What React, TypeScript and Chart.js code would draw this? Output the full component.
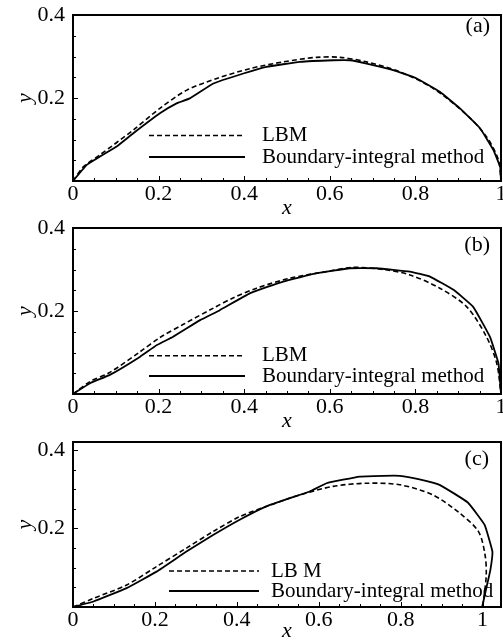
import React, { useEffect, useRef } from 'react';
import { Chart, registerables } from 'chart.js';

Chart.register(...registerables);

const FONT = '"Liberation Serif", "Times New Roman", Times, serif';

// Tick labels
const X_TICK_VALUES = [0, 0.2, 0.4, 0.6, 0.8, 1];
const X_TICK_LABELS = ['0', '0.2', '0.4', '0.6', '0.8', '1'];
const Y_TICK_VALUES = [0.2, 0.4];
const Y_TICK_LABELS = ['0.2', '0.4'];
const MINOR_STEP = 0.05;
const MAJOR_STEP = 0.2;

// Series names
const LBM_LABEL = 'LBM';
const LBM_LABEL_C = 'LB M';
const BIM_LABEL = 'Boundary-integral method';
const PANEL_TAGS = ['(a)', '(b)', '(c)'];

// Panel (a)
const A_LBM_X = [0, 0.024, 0.063, 0.141, 0.203, 0.266, 0.336, 0.414, 0.491, 0.569, 0.624, 0.686, 0.764, 0.842, 0.92, 0.966, 0.994, 1.0];
const A_LBM_Y = [0, 0.034, 0.063, 0.123, 0.175, 0.219, 0.247, 0.271, 0.287, 0.298, 0.298, 0.287, 0.263, 0.223, 0.159, 0.107, 0.051, 0];
const A_BIM_X = [0, 0.032, 0.063, 0.102, 0.141, 0.203, 0.242, 0.273, 0.328, 0.398, 0.452, 0.53, 0.608, 0.647, 0.686, 0.748, 0.803, 0.857, 0.904, 0.951, 0.982, 0.998, 1.0];
const A_BIM_Y = [0, 0.039, 0.059, 0.083, 0.115, 0.163, 0.187, 0.199, 0.235, 0.259, 0.275, 0.287, 0.291, 0.291, 0.283, 0.267, 0.247, 0.215, 0.175, 0.127, 0.075, 0.034, 0];

// Panel (b)
const B_LBM_X = [0, 0.04, 0.086, 0.157, 0.203, 0.258, 0.328, 0.375, 0.429, 0.507, 0.593, 0.655, 0.725, 0.787, 0.857, 0.92, 0.966, 0.99, 1.0];
const B_LBM_Y = [0, 0.03, 0.052, 0.102, 0.136, 0.168, 0.207, 0.232, 0.255, 0.279, 0.295, 0.305, 0.3, 0.287, 0.255, 0.21, 0.138, 0.074, 0];
const B_BIM_X = [0, 0.04, 0.086, 0.157, 0.196, 0.234, 0.297, 0.343, 0.414, 0.491, 0.569, 0.647, 0.71, 0.787, 0.834, 0.889, 0.935, 0.974, 0.994, 1.0];
const B_BIM_Y = [0, 0.026, 0.046, 0.09, 0.118, 0.138, 0.178, 0.202, 0.243, 0.271, 0.291, 0.303, 0.303, 0.295, 0.283, 0.251, 0.21, 0.138, 0.074, 0];

// Panel (c)
const C_LBM_X = [0, 0.05, 0.131, 0.204, 0.277, 0.342, 0.407, 0.472, 0.554, 0.635, 0.716, 0.798, 0.879, 0.944, 0.99, 1.006, 1.009, 1.003, 1.0];
const C_LBM_Y = [0, 0.022, 0.056, 0.103, 0.15, 0.192, 0.23, 0.256, 0.285, 0.307, 0.315, 0.311, 0.285, 0.239, 0.192, 0.133, 0.082, 0.022, 0];
const C_BIM_X = [0, 0.05, 0.131, 0.204, 0.277, 0.342, 0.407, 0.472, 0.529, 0.578, 0.619, 0.7, 0.757, 0.798, 0.846, 0.895, 0.964, 1.005, 1.024, 1.019, 1.01, 0.999];
const C_BIM_Y = [0, 0.014, 0.048, 0.09, 0.141, 0.183, 0.222, 0.256, 0.277, 0.294, 0.315, 0.332, 0.334, 0.334, 0.325, 0.311, 0.266, 0.209, 0.141, 0.094, 0.052, 0];

const CANVAS_W = 520;
const CANVAS_H = 230;

type Spec = {
  top: number;
  xMax: number;
  yMax: number;
  lbmX: number[];
  lbmY: number[];
  bimX: number[];
  bimY: number[];
  lbmLabel: string;
  tag: string;
  chartBottom: number;
  xTitlePad: number;
  legend: { x0: number; x1: number; tx: number; y1: number; y2: number };
  tagX: number;
  tagY: number;
};

const SPECS: Spec[] = [
  {
    top: 0, xMax: 1, yMax: 0.4,
    lbmX: A_LBM_X, lbmY: A_LBM_Y, bimX: A_BIM_X, bimY: A_BIM_Y,
    lbmLabel: LBM_LABEL, tag: PANEL_TAGS[0],
    chartBottom: 181, xTitlePad: 10.5,
    legend: { x0: 149, x1: 245, tx: 262, y1: 135.5, y2: 157 },
    tagX: 490, tagY: 26,
  },
  {
    top: 213, xMax: 1, yMax: 0.4,
    lbmX: B_LBM_X, lbmY: B_LBM_Y, bimX: B_BIM_X, bimY: B_BIM_Y,
    lbmLabel: LBM_LABEL, tag: PANEL_TAGS[1],
    chartBottom: 181, xTitlePad: 10.5,
    legend: { x0: 149, x1: 245, tx: 262, y1: 142.7, y2: 163 },
    tagX: 490, tagY: 32,
  },
  {
    top: 427, xMax: 1.045, yMax: 0.42,
    lbmX: C_LBM_X, lbmY: C_LBM_Y, bimX: C_BIM_X, bimY: C_BIM_Y,
    lbmLabel: LBM_LABEL_C, tag: PANEL_TAGS[2],
    chartBottom: 180, xTitlePad: 15,
    legend: { x0: 169, x1: 259, tx: 271, y1: 144, y2: 164 },
    tagX: 489, tagY: 32,
  },
];

const zip = (xs: number[], ys: number[]) => xs.map((x, i) => ({ x, y: ys[i] }));

const labelFor = (values: number[], labels: string[]) => (v: number | string) => {
  const n = Number(v);
  const i = values.findIndex((t) => Math.abs(t - n) < 1e-6);
  return i >= 0 ? labels[i] : '';
};

const isMult = (v: number, step: number) => Math.abs(v / step - Math.round(v / step)) < 1e-6;

function makeDecor(spec: Spec) {
  return {
    id: 'decor' + spec.tag,
    afterDraw(chart: any) {
      const ctx = chart.ctx as CanvasRenderingContext2D;
      const { left, right, top, bottom } = chart.chartArea;
      const xs = chart.scales.x;
      const ys = chart.scales.y;
      ctx.save();
      ctx.strokeStyle = '#000';
      ctx.lineWidth = 1;
      for (const t of xs.ticks) {
        const v = t.value;
        if (!isMult(v, MINOR_STEP) || v <= xs.min + 1e-9 || v > xs.max + 1e-9) continue;
        const len = isMult(v, MAJOR_STEP) ? 5 : 3;
        const px = Math.round(xs.getPixelForValue(v)) + 0.5;
        ctx.beginPath();
        ctx.moveTo(px, bottom);
        ctx.lineTo(px, bottom - len);
        ctx.stroke();
      }
      for (const t of ys.ticks) {
        const v = t.value;
        if (!isMult(v, MINOR_STEP) || v <= ys.min + 1e-9 || v > ys.max + 1e-9) continue;
        const len = isMult(v, MAJOR_STEP) ? 5 : 3;
        const py = Math.round(ys.getPixelForValue(v)) + 0.5;
        ctx.beginPath();
        ctx.moveTo(left, py);
        ctx.lineTo(left + len, py);
        ctx.stroke();
      }
      ctx.lineWidth = 2;
      ctx.strokeRect(left, top, right - left, bottom - top);
      const lg = spec.legend;
      const ds = chart.data.datasets;
      const rows = [lg.y1, lg.y2];
      ctx.font = `21px ${FONT}`;
      ctx.fillStyle = '#000';
      ctx.textBaseline = 'middle';
      ctx.textAlign = 'left';
      ds.forEach((d: any, i: number) => {
        const y = rows[i];
        ctx.beginPath();
        ctx.lineWidth = d.borderWidth;
        ctx.setLineDash(d.borderDash || []);
        ctx.moveTo(lg.x0, y);
        ctx.lineTo(lg.x1, y);
        ctx.stroke();
        ctx.setLineDash([]);
        ctx.fillText(d.label, lg.tx, y);
      });
      ctx.font = `22px ${FONT}`;
      ctx.textAlign = 'right';
      ctx.fillText(spec.tag, spec.tagX, spec.tagY);
      ctx.restore();
    },
  };
}

function Panel({ spec }: { spec: Spec }) {
  const ref = useRef<HTMLCanvasElement | null>(null);
  useEffect(() => {
    if (!ref.current) return;
    const tickFont = { family: FONT, size: 22, lineHeight: 1.2 };
    const titleFont = { family: FONT, size: 22, style: 'italic' as const, lineHeight: 1 };
    const chart = new Chart(ref.current, {
      type: 'scatter',
      data: {
        datasets: [
          {
            label: spec.lbmLabel,
            data: zip(spec.lbmX, spec.lbmY),
            showLine: true,
            borderColor: '#000',
            backgroundColor: '#000',
            borderWidth: 1.6,
            borderDash: [5, 3],
            pointRadius: 0,
            tension: 0.3,
            fill: false,
          },
          {
            label: BIM_LABEL,
            data: zip(spec.bimX, spec.bimY),
            showLine: true,
            borderColor: '#000',
            backgroundColor: '#000',
            borderWidth: 1.8,
            pointRadius: 0,
            tension: 0.1,
            fill: false,
          },
        ],
      },
      options: {
        animation: false,
        responsive: false,
        maintainAspectRatio: false,
        layout: { padding: { top: 15, left: 0, right: CANVAS_W - 501, bottom: 0 } },
        plugins: { legend: { display: false }, tooltip: { enabled: false } },
        scales: {
          x: {
            type: 'linear',
            min: 0,
            max: spec.xMax,
            ticks: {
              stepSize: MINOR_STEP,
              includeBounds: false,
              autoSkip: false,
              maxRotation: 0,
              minRotation: 0,
              padding: 0,
              color: '#000',
              font: tickFont,
              callback: labelFor(X_TICK_VALUES, X_TICK_LABELS),
            },
            grid: { display: false, drawTicks: false },
            border: { display: false },
            title: {
              display: true,
              text: 'x',
              color: '#000',
              font: titleFont,
              padding: { top: 0, bottom: spec.xTitlePad },
            },
            afterFit: (s: any) => {
              s.height = CANVAS_H - spec.chartBottom;
              s.paddingLeft = 0;
              s.paddingRight = 0;
            },
          },
          y: {
            type: 'linear',
            min: 0,
            max: spec.yMax,
            ticks: {
              stepSize: MINOR_STEP,
              includeBounds: false,
              autoSkip: false,
              padding: 8,
              color: '#000',
              font: tickFont,
              callback: labelFor(Y_TICK_VALUES, Y_TICK_LABELS),
            },
            grid: { display: false, drawTicks: false },
            border: { display: false },
            title: {
              display: true,
              text: 'y',
              color: '#000',
              font: titleFont,
              padding: { top: 14, bottom: 0 },
            },
            afterFit: (s: any) => {
              s.width = 73;
              s.paddingTop = 0;
              s.paddingBottom = 0;
            },
          },
        },
      },
      plugins: [makeDecor(spec)],
    } as any);
    return () => chart.destroy();
  }, [spec]);
  return (
    <canvas
      ref={ref}
      width={CANVAS_W}
      height={CANVAS_H}
      style={{ position: 'absolute', left: 0, top: spec.top, width: CANVAS_W, height: CANVAS_H, display: 'block' }}
    />
  );
}

export default function App() {
  return (
    <div
      style={{
        position: 'absolute',
        left: 0,
        top: 0,
        width: 503,
        height: 643,
        overflow: 'hidden',
        background: '#fff',
      }}
    >
      {SPECS.map((s) => (
        <Panel key={s.tag} spec={s} />
      ))}
    </div>
  );
}
